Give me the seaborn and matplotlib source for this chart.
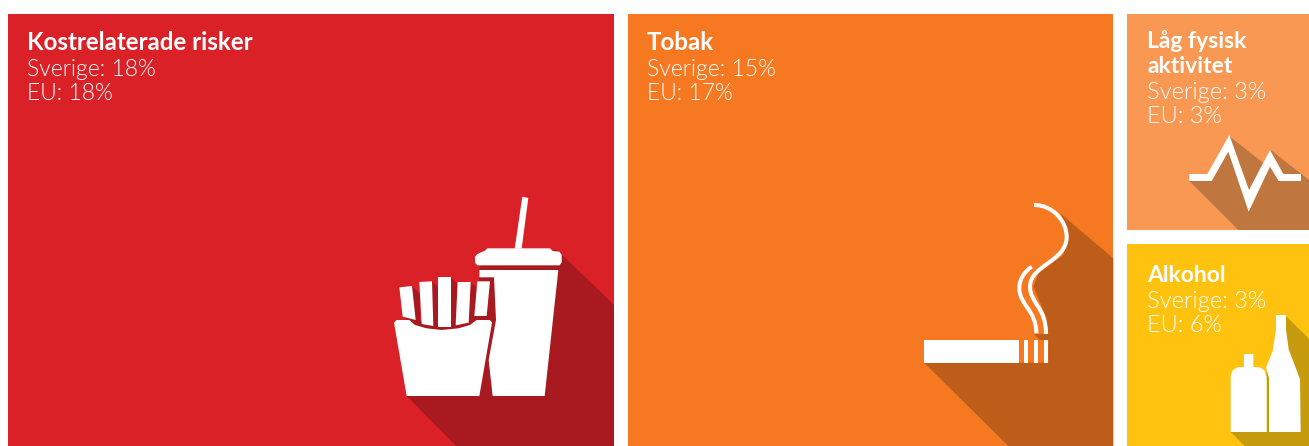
import matplotlib
matplotlib.use("Agg")
import matplotlib.pyplot as plt
from matplotlib.path import Path
from matplotlib.patches import PathPatch, Polygon
import seaborn as sns

# andel per riskfaktor
risker = ["Kostrelaterade risker", "Tobak", "Låg fysisk\naktivitet", "Alkohol"]
sverige = [18, 15, 3, 3]
eu = [18, 17, 3, 6]

farger = ["#DA2128", "#F67821", "#F99853", "#FFC20E"]
skuggor = ["#A81920", "#BD5D19", "#BF763F", "#C69B0E"]

W, H = 1309, 446
# rutornas plats i pixlar: vänster, topp, höger, botten
rutor = [(8, 14, 614, 446), (628, 14, 1113, 446), (1127, 14, 1309, 230), (1127, 244, 1309, 446)]
# textens plats: x, första baslinje, rubrikstorlek, textstorlek
texter = [(27, 50, 17.4, 16.5), (647, 50, 17.4, 16.5), (1147, 48, 16.5, 17), (1147, 282, 16.5, 17)]

sns.set_theme(style="white")
fig = plt.figure(figsize=(W / 100, H / 100), dpi=100)

for i, (l, t, r, b) in enumerate(rutor):
    ax = fig.add_axes([l / W, 1 - b / H, (r - l) / W, (b - t) / H])
    sns.barplot(x=[risker[i]], y=[sverige[i]], color=farger[i], saturation=1, width=1, linewidth=0, ax=ax)
    ax.set_xlim(-0.5, 0.5)
    ax.set_ylim(0, sverige[i])
    ax.axis("off")

# gemensamt lager i pixlar för ikoner och text
top = fig.add_axes([0, 0, 1, 1], zorder=5)
top.set_xlim(0, W)
top.set_ylim(H, 0)
top.axis("off")
top.patch.set_alpha(0)


def zp(ox, oy, pts):
    # punkterna är avlästa i 3x-utsnitt
    return [(ox + x / 3, oy + y / 3) for x, y in pts]


def fyll(ox, oy, pts, c, z=2):
    top.add_patch(Polygon(zp(ox, oy, pts), closed=True, fc=c, ec="none", zorder=z))


def kurva(ox, oy, pts, lw=2.9):
    koder = [Path.MOVETO] + [Path.CURVE4] * (len(pts) - 1)
    top.add_patch(PathPatch(Path(zp(ox, oy, pts), koder), fc="none", ec="white", lw=lw, capstyle="butt", zorder=3))


# mat och dryck
ox, oy = 370, 180
fyll(ox, oy, [(110, 648), (72, 425), (320, 415), (328, 270), (340, 220), (560, 210), (577, 225), (732, 375),
              (732, 798), (258, 798)], skuggor[0], 1)
fyll(ox, oy, [(126, 318), (150, 342), (150, 440), (130, 425)], skuggor[0], 1)
fyll(ox, oy, [(186, 304), (205, 322), (205, 445), (186, 445)], skuggor[0], 1)
fyll(ox, oy, [(242, 292), (263, 312), (257, 445), (242, 445)], skuggor[0], 1)
fyll(ox, oy, [(302, 306), (322, 326), (313, 425), (296, 435)], skuggor[0], 1)
fyll(ox, oy, [(98, 408), (125, 408), (150, 428), (215, 438), (290, 425), (315, 408), (365, 406), (378, 420),
              (366, 440), (300, 445), (120, 430)], skuggor[0], 2)
fyll(ox, oy, [(457, 50), (475, 54), (455, 206), (434, 206)], "white", 3)
fyll(ox, oy, [(322, 222), (345, 212), (352, 205), (540, 205), (548, 213), (568, 215), (575, 224), (575, 248),
              (568, 256), (322, 256), (315, 248), (315, 230)], "white", 3)
fyll(ox, oy, [(328, 270), (565, 270), (524, 648), (368, 648), (356, 540), (378, 420), (372, 292), (328, 292)],
     "white", 3)
fyll(ox, oy, [(88, 322), (126, 318), (137, 420), (98, 410)], "white", 3)
fyll(ox, oy, [(148, 306), (186, 304), (190, 438), (155, 432)], "white", 3)
fyll(ox, oy, [(205, 292), (242, 292), (242, 440), (205, 440)], "white", 3)
fyll(ox, oy, [(263, 306), (302, 306), (296, 428), (257, 436)], "white", 3)
fyll(ox, oy, [(322, 304), (360, 304), (350, 408), (313, 408)], "white", 3)
fyll(ox, oy, [(80, 420), (118, 420), (135, 435), (170, 445), (215, 450), (265, 445), (300, 435), (320, 420),
              (360, 420), (366, 428), (328, 648), (110, 648), (72, 428)], "white", 4)

# cigarett och rök
ox, oy = 900, 190
fyll(ox, oy, [(72, 518), (325, 768), (640, 768), (640, 205), (483, 72), (505, 140), (490, 195), (415, 250),
              (400, 290), (440, 385), (445, 432), (402, 432), (420, 450), (445, 450), (445, 518)], skuggor[1], 1)
fyll(ox, oy, [(72, 450), (357, 450), (357, 518), (72, 518)], "white", 3)
for x0, x1 in [(372, 384), (402, 414), (432, 445)]:
    fyll(ox, oy, [(x0, 450), (x1, 450), (x1, 518), (x0, 518)], "white", 3)
kurva(ox, oy, [(402, 45), (460, 45), (500, 95), (500, 140), (500, 215), (390, 225), (390, 290), (390, 340),
               (438, 350), (438, 432)])
kurva(ox, oy, [(395, 230), (370, 248), (358, 270), (358, 295), (358, 345), (409, 360), (409, 430)])

# puls
ox, oy = 1120, 0
fyll(ox, oy, [(208, 543), (275, 543), (327, 408), (440, 497), (452, 450), (567, 540), (567, 690), (355, 690)],
     skuggor[2], 1)
fyll(ox, oy, [(208, 522), (262, 522), (328, 405), (387, 570), (450, 450), (490, 522), (543, 522), (543, 543),
              (476, 543), (450, 500), (386, 635), (325, 455), (275, 543), (208, 543)], "white", 3)

# flaskor
ox, oy = 1120, 236
fyll(ox, oy, [(332, 588), (374, 630), (567, 630), (567, 308), (498, 240), (498, 300), (440, 400), (440, 588)],
     skuggor[3], 1)
fyll(ox, oy, [(372, 354), (400, 354), (400, 393), (420, 394), (435, 405), (440, 425), (440, 588), (332, 588),
              (332, 420), (338, 403), (352, 394), (372, 393)], "white", 3)
fyll(ox, oy, [(468, 237), (498, 237), (498, 280), (506, 340), (525, 390), (540, 430), (542, 588), (447, 588),
              (447, 425), (438, 395), (458, 345), (468, 280)], "white", 3)

# text
for i, (x, y, s1, s2) in enumerate(texter):
    rader = risker[i].split("\n")
    for rad in rader:
        top.text(x, y, rad, color="white", family="Lato", weight=700, size=s1, va="baseline", zorder=6)
        y += 25
    top.text(x, y + 1, f"Sverige: {sverige[i]}%", color="white", family="Lato", weight=300, size=s2,
             va="baseline", zorder=6)
    top.text(x, y + 25, f"EU: {eu[i]}%", color="white", family="Lato", weight=300, size=s2,
             va="baseline", zorder=6)

fig.savefig("out.png", dpi=100, facecolor="white")
